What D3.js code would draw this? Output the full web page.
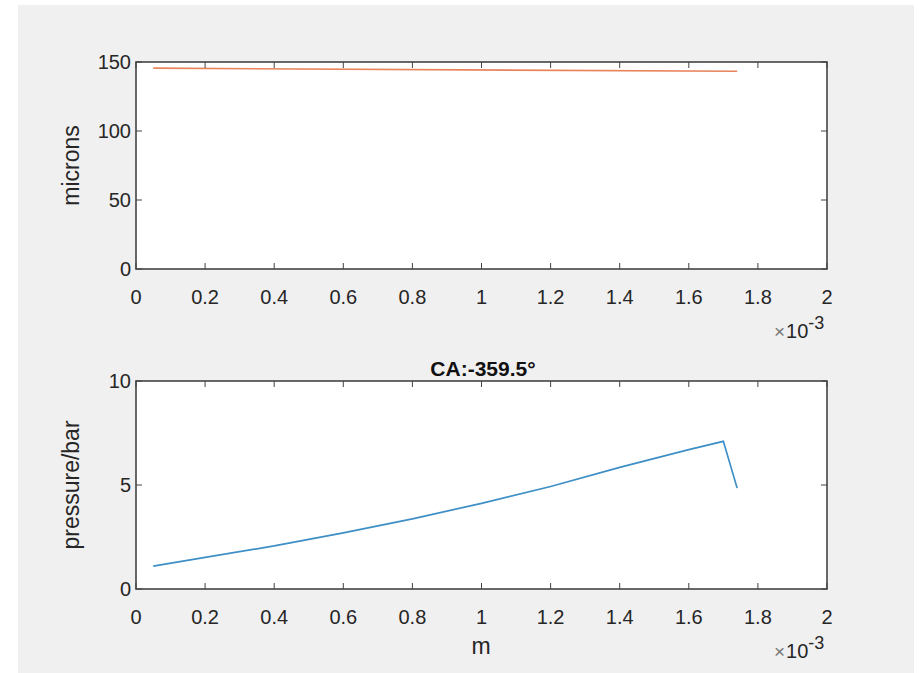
<!DOCTYPE html>
<head>
<meta charset="utf-8">
<style>
  html,body {
    margin: 0;
    background: #ffffff;
    font-family: "Liberation Sans", Arial, sans-serif;
  }
</style>
<script src="https://d3js.org/d3.v7.min.js"></script>
</head>
<body>
<div id="viz"></div>
<script>
// film thickness (microns) vs position (m)
var topX = [0.05e-3, 1.74e-3];
var topY = [145.5, 143.3];

// pressure (bar) vs position (m)
var botX = [0.05e-3, 0.2e-3, 0.4e-3, 0.6e-3, 0.8e-3, 1.0e-3, 1.2e-3, 1.4e-3, 1.6e-3, 1.7e-3, 1.74e-3];
var botY = [1.1, 1.52, 2.07, 2.7, 3.37, 4.12, 4.93, 5.85, 6.7, 7.1, 4.85];

var xTicks = [0, 0.2, 0.4, 0.6, 0.8, 1, 1.2, 1.4, 1.6, 1.8, 2];
var topTicks = [0, 50, 100, 150];
var botTicks = [0, 5, 10];

var W = 919, H = 673;
var svg = d3.select("#viz").append("svg")
  .attr("width", W).attr("height", H);

// grey figure background
svg.append("rect")
  .attr("x", 18).attr("y", 5)
  .attr("width", 896).attr("height", H - 5)
  .attr("fill", "#f0f0f0");

var axColor = "#444";
var txtColor = "#262626";

// draws one MATLAB-ish boxed axes
var drawAxes = function (top, bottom, yMax, yTicks, xs, ys, color, opts) {
  var x = d3.scaleLinear().domain([0, 2e-3]).range([136, 827]);
  var y = d3.scaleLinear().domain([0, yMax]).range([bottom, top]);
  var g = svg.append("g");

  g.append("rect")
    .attr("x", 136).attr("y", top)
    .attr("width", 827 - 136).attr("height", bottom - top)
    .attr("fill", "white");

  var line = d3.line()
    .x(function (d, i) { return x(xs[i]); })
    .y(function (d) { return y(d); });

  g.append("path")
    .datum(ys)
    .attr("d", line)
    .attr("fill", "none")
    .attr("stroke", color)
    .attr("stroke-width", 1.7);

  // ticks, inside, on all 4 sides
  xTicks.forEach(function (t) {
    var px = x(t * 1e-3);
    g.append("line").attr("x1", px).attr("x2", px).attr("y1", bottom).attr("y2", bottom - 6)
      .attr("stroke", axColor);
    g.append("line").attr("x1", px).attr("x2", px).attr("y1", top).attr("y2", top + 6)
      .attr("stroke", axColor);
    g.append("text")
      .attr("x", px).attr("y", bottom + 35)
      .attr("text-anchor", "middle")
      .attr("font-size", "20px")
      .attr("fill", txtColor)
      .text(t);
  });
  yTicks.forEach(function (t) {
    var py = y(t);
    g.append("line").attr("x1", 136).attr("x2", 142).attr("y1", py).attr("y2", py)
      .attr("stroke", axColor);
    g.append("line").attr("x1", 827).attr("x2", 821).attr("y1", py).attr("y2", py)
      .attr("stroke", axColor);
    g.append("text")
      .attr("x", 131).attr("y", py + 7)
      .attr("text-anchor", "end")
      .attr("font-size", "20px")
      .attr("fill", txtColor)
      .text(t);
  });

  g.append("rect")
    .attr("x", 136).attr("y", top)
    .attr("width", 827 - 136).attr("height", bottom - top)
    .attr("fill", "none")
    .attr("stroke", axColor)
    .attr("stroke-width", 1.6);

  // x10^-3 exponent
  var ex = g.append("text")
    .attr("x", 774).attr("y", bottom + 69)
    .attr("font-size", "20px")
    .attr("fill", txtColor);
  ex.append("tspan").attr("font-size", "19px").attr("fill", "#777").text("\u00d7");
  ex.append("tspan").attr("dx", 1).text("10");
  ex.append("tspan").attr("dy", -9).attr("font-size", "18px").text("-3");

  g.append("text")
    .attr("transform", "translate(79," + ((top + bottom) / 2) + ") rotate(-90)")
    .attr("text-anchor", "middle")
    .attr("font-size", "23px")
    .attr("fill", txtColor)
    .text(opts.ylabel);

  if (opts.title) {
    g.append("text")
      .attr("x", 483).attr("y", top - 5)
      .attr("text-anchor", "middle")
      .attr("font-size", "21px")
      .attr("font-weight", "bold")
      .attr("fill", "#111")
      .text(opts.title);
  }
  if (opts.xlabel) {
    g.append("text")
      .attr("x", 481).attr("y", bottom + 65)
      .attr("text-anchor", "middle")
      .attr("font-size", "23px")
      .attr("fill", txtColor)
      .text(opts.xlabel);
  }
};

drawAxes(62, 269, 150, topTicks, topX, topY, "#e8835a", { ylabel: "microns" });
drawAxes(381, 589, 10, botTicks, botX, botY, "#3d8fc6", { ylabel: "pressure/bar", title: "CA:-359.5\u00b0", xlabel: "m" });
</script>
</body>
</html>
